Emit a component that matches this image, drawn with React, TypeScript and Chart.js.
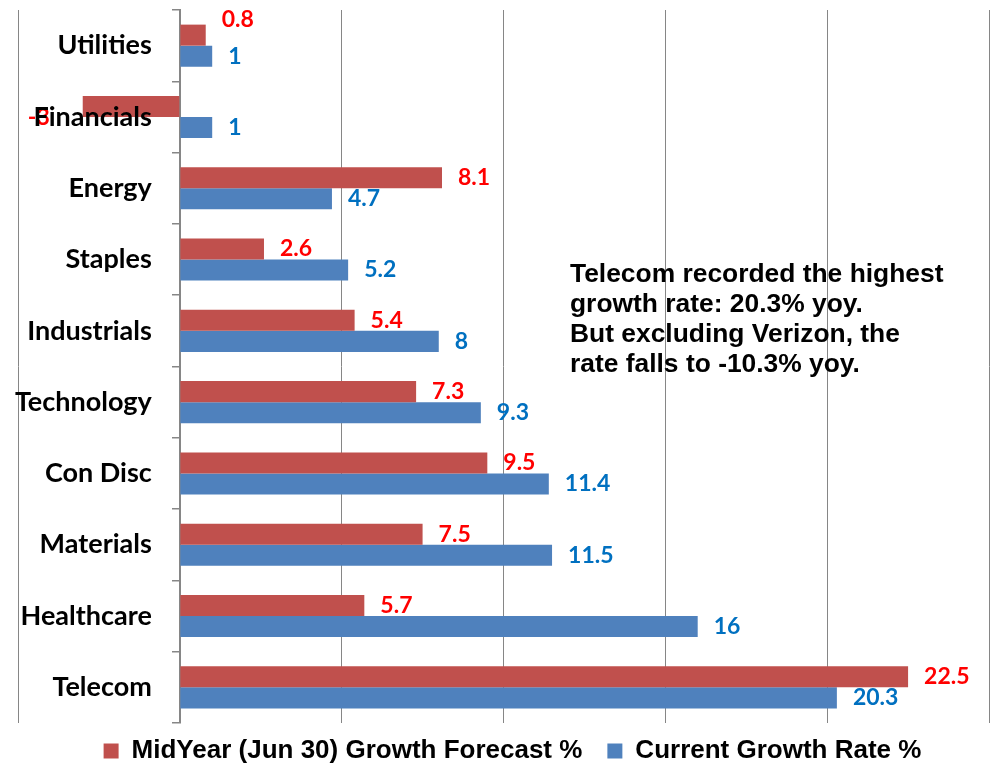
import React, { useEffect, useRef } from "react";
import { Chart, registerables } from "chart.js";

Chart.register(...registerables);

const categories = [
  "Utilities",
  "Financials",
  "Energy",
  "Staples",
  "Industrials",
  "Technology",
  "Con Disc",
  "Materials",
  "Healthcare",
  "Telecom",
];
const midYearForecast = [0.8, -3, 8.1, 2.6, 5.4, 7.3, 9.5, 7.5, 5.7, 22.5];
const currentGrowth = [1, 1, 4.7, 5.2, 8, 9.3, 11.4, 11.5, 16, 20.3];
const seriesNames = ["MidYear (Jun 30) Growth Forecast %", "Current Growth Rate %"];
const noteLines = [
  "Telecom recorded the highest",
  "growth rate: 20.3% yoy.",
  "But excluding Verizon, the",
  "rate falls to -10.3% yoy.",
];

const RED = "#C0504D";
const BLUE = "#4F81BD";
const RED_LABEL = "#FF0000";
const BLUE_LABEL = "#0070C0";
const GRID = "#868686";

// label nudges (dy in px) for a couple of red labels
const redLabelDy: Record<number, number> = { 0: -16, 1: 11 };

const dataLabelPlugin = {
  id: "dataLabels",
  afterDraw(chart: any) {
    const ctx = chart.ctx;
    ctx.save();
    ctx.font = "bold 23px Lato";
    ctx.textBaseline = "middle";
    chart.data.datasets.forEach((ds: any, di: number) => {
      const meta = chart.getDatasetMeta(di);
      meta.data.forEach((el: any, i: number) => {
        const v = ds.data[i];
        const txt = String(v);
        ctx.fillStyle = di === 0 ? RED_LABEL : BLUE_LABEL;
        const dy = di === 0 ? redLabelDy[i] || 0 : 0;
        if (v >= 0) {
          ctx.textAlign = "left";
          ctx.fillText(txt, el.x + 16, el.y + dy);
        } else {
          ctx.textAlign = "right";
          ctx.fillText(txt, el.x - 33, el.y + dy);
        }
      });
    });
    ctx.restore();
  },
};

// category names drawn next to the category axis (which sits at x = 0)
const categoryLabelPlugin = {
  id: "categoryLabels",
  afterDraw(chart: any) {
    const ctx = chart.ctx;
    const y = chart.scales.y;
    const x0 = chart.scales.x.getPixelForValue(0);
    ctx.save();
    ctx.font = "bold 27px Lato";
    ctx.fillStyle = "#000";
    ctx.textAlign = "right";
    ctx.textBaseline = "middle";
    categories.forEach((c, i) => ctx.fillText(c, x0 - 28, y.getPixelForValue(i)));
    ctx.restore();
  },
};

const notePlugin = {
  id: "note",
  afterDraw(chart: any) {
    const ctx = chart.ctx;
    ctx.save();
    ctx.font = 'bold 26.4px "Liberation Sans"';
    ctx.fillStyle = "#000";
    ctx.textAlign = "left";
    ctx.textBaseline = "alphabetic";
    noteLines.forEach((l, i) => ctx.fillText(l, 570, 282 + i * 30));
    ctx.restore();
  },
};

const legendShift = {
  id: "legendShift",
  afterLayout(chart: any) {
    const lg = chart.legend;
    if (lg) {
      lg.left += 9;
      lg.right += 9;
      lg.top -= 10;
      lg.bottom -= 10;
    }
  },
};

export default function App() {
  const ref = useRef<HTMLCanvasElement>(null);
  useEffect(() => {
    const chart = new Chart(ref.current!, {
      type: "bar",
      data: {
        labels: categories,
        datasets: [
          {
            label: seriesNames[0],
            data: midYearForecast,
            backgroundColor: RED,
            categoryPercentage: 0.59,
            barPercentage: 1,
          },
          {
            label: seriesNames[1],
            data: currentGrowth,
            backgroundColor: BLUE,
            categoryPercentage: 0.59,
            barPercentage: 1,
          },
        ],
      },
      options: {
        indexAxis: "y",
        animation: false,
        responsive: false,
        devicePixelRatio: 1,
        layout: { padding: { left: 18, right: 1, top: 10, bottom: -8 } },
        scales: {
          x: {
            type: "linear",
            min: -5,
            max: 25,
            ticks: { stepSize: 5, display: false },
            grid: { color: GRID, drawTicks: false, lineWidth: 1 },
            border: { display: false },
          },
          y: {
            type: "category",
            position: { x: 0 } as any,
            z: 1,
            offset: true,
            grid: {
              drawOnChartArea: false,
              offset: true,
              tickLength: 7,
              color: GRID,
              lineWidth: 1.5,
            },
            border: { display: true, color: GRID, width: 2 },
            ticks: { display: false },
          },
        },
        plugins: {
          legend: {
            position: "bottom",
            labels: {
              color: "#000",
              font: { family: "Liberation Sans", weight: "bold", size: 26 },
              boxWidth: 15,
              boxHeight: 15,
              padding: 25,
            },
          },
          tooltip: { enabled: false },
        },
      },
      plugins: [dataLabelPlugin, categoryLabelPlugin, notePlugin, legendShift],
    });
    return () => chart.destroy();
  }, []);
  return (
    <div style={{ position: "absolute", left: 0, top: 0, width: 990, height: 776, background: "#fff" }}>
      <canvas ref={ref} width={990} height={776} />
    </div>
  );
}
